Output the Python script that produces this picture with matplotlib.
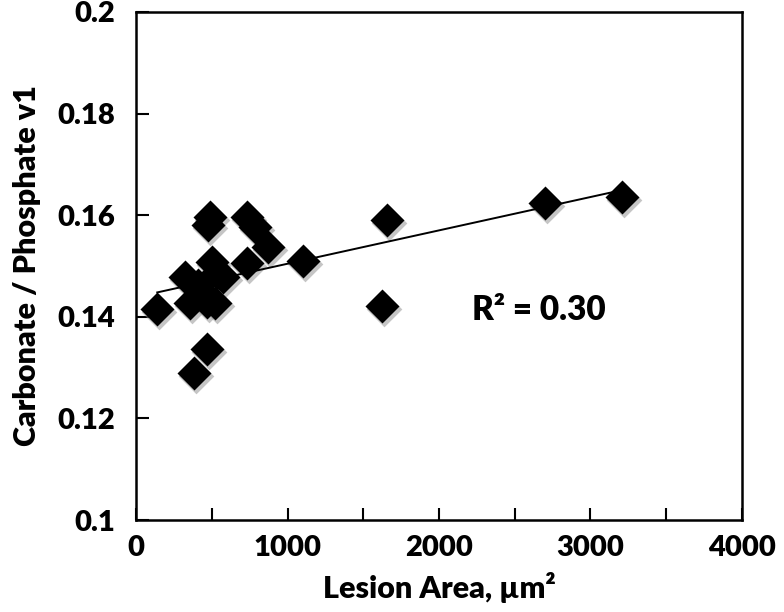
import numpy as np
import matplotlib.pyplot as plt
from matplotlib import transforms
from matplotlib.ticker import MultipleLocator, FuncFormatter

# lesion area (um^2) and carbonate/phosphate ratio
area = [140, 323, 356, 383, 411, 422, 466, 469, 477, 490, 499, 521, 532, 576,
        730, 730, 786, 873, 1100, 1622, 1655, 2700, 3210]
ratio = [0.1415, 0.1479, 0.1427, 0.1289, 0.1463, 0.1453, 0.1430, 0.1337, 0.1581,
         0.1597, 0.1508, 0.1427, 0.1486, 0.1479, 0.1597, 0.1505, 0.1577, 0.1538,
         0.1509, 0.1422, 0.1591, 0.1625, 0.1636]
r2_text = "R$^\\mathbf{2}$ = 0.30"

plt.rcParams["font.family"] = ["Lato", "DejaVu Sans"]
plt.rcParams["font.weight"] = "heavy"
plt.rcParams["mathtext.default"] = "bf"

fig = plt.figure(figsize=(7.84, 6.12), dpi=100)
ax = fig.add_axes([0.1735, 0.1503, 0.7729, 0.8301])

# soft drop shadow under the diamonds
shadow = transforms.offset_copy(ax.transData, fig=fig, x=2, y=-3, units="dots")
ax.scatter(area, ratio, s=330, marker="D", color="0.55", alpha=0.5,
           linewidths=0, transform=shadow, zorder=2)
ax.scatter(area, ratio, s=300, marker="D", color="black", linewidths=0, zorder=3)

slope, icept = np.polyfit(area, ratio, 1)
xs = np.array([min(area), max(area)])
ax.plot(xs, slope * xs + icept, color="black", lw=1.4, zorder=4)

ax.text(2220, 0.1413, "R² = 0.30", fontsize=24, fontweight="heavy", va="center")

ax.set_xlim(0, 4000)
ax.set_ylim(0.1, 0.2)
ax.xaxis.set_major_locator(MultipleLocator(1000))
ax.xaxis.set_minor_locator(MultipleLocator(500))
ax.yaxis.set_major_locator(MultipleLocator(0.02))
ax.yaxis.set_major_formatter(FuncFormatter(lambda v, p: "%g" % round(v, 3)))
ax.tick_params(which="both", direction="in", length=9, width=1.5, labelsize=21)
ax.tick_params(axis="y", pad=15)
ax.tick_params(axis="x", pad=11)
for lab in ax.get_xticklabels() + ax.get_yticklabels():
    lab.set_fontweight("heavy")
for sp in ax.spines.values():
    sp.set_linewidth(1.8)

ax.set_xlabel("Lesion Area, µm²", fontsize=22, fontweight="heavy", labelpad=8)
ax.set_ylabel("Carbonate / Phosphate v1", fontsize=22, fontweight="heavy",
              labelpad=12)

fig.savefig("out.png", dpi=100)
